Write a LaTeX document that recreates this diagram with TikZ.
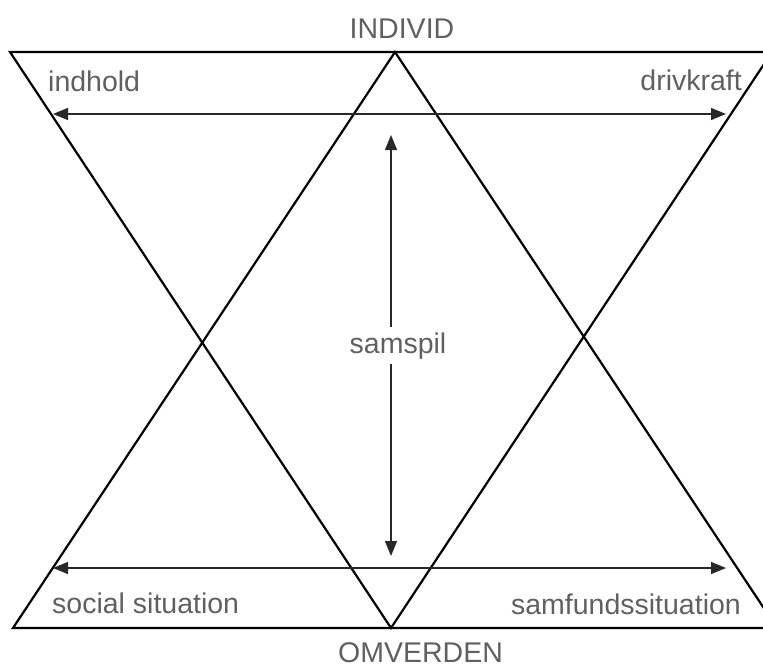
\documentclass[tikz,border=0pt]{standalone}
\usepackage{fontspec}
\setmainfont{Liberation Sans}
\usetikzlibrary{arrows.meta,positioning}
\definecolor{labelgray}{RGB}{96,96,96}
\definecolor{arrowgray}{RGB}{40,40,40}

\tikzset{
  lbl/.style={text=labelgray, inner sep=0pt, font=\fontsize{28.5}{34}\selectfont},
  tri/.style={line width=2.2pt, black, line join=miter},
  pil/.style={line width=1.3pt, arrowgray, {Triangle[length=15pt,width=12pt]}-{Triangle[length=15pt,width=12pt]}},
  pilend/.style={line width=1.3pt, arrowgray, -{Triangle[length=15pt,width=12pt]}}
}

\begin{document}
\begin{tikzpicture}[x=1pt,y=-1pt]
  \useasboundingbox (0,0) rectangle (763,669);
  \begin{scope}
    \clip (0,0) rectangle (763,669);
    % triangle pointing down
    \draw[tri] (10,52) -- (772,52) -- (391,628) -- cycle;
    % triangle pointing up
    \draw[tri] (395,52) -- (777,628) -- (13,628) -- cycle;
  \end{scope}

  \node[lbl, anchor=base] (individ) at (402,39) {INDIVID};
  \node[lbl, anchor=base west] (omverden) at (338,662) {OMVERDEN};
  \node[lbl, anchor=base west] (indhold) at (48,92) {indhold};
  \node[lbl, anchor=base east] (drivkraft) at (742,91) {drivkraft};
  \node[lbl, anchor=base west] (social) at (52,613) {social situation};
  \node[lbl, anchor=base east] (samfund) at (741,614) {samfundssituation};
  \node[lbl, anchor=base, inner ysep=5pt] (samspil) at (398,353) {samspil};

  \coordinate (topL) at (53,114);
  \coordinate (topR) at (726,114);
  \coordinate (botL) at (53,568);
  \coordinate (botR) at (726,568);
  \coordinate (midT) at (391,135);
  \coordinate (midB) at (391,556);

  \draw[pil] (topL) -- (topR);
  \draw[pil] (botL) -- (botR);
  \draw[pilend] (samspil.north -| midT) -- (midT);
  \draw[pilend] (samspil.south -| midB) -- (midB);
\end{tikzpicture}
\end{document}
